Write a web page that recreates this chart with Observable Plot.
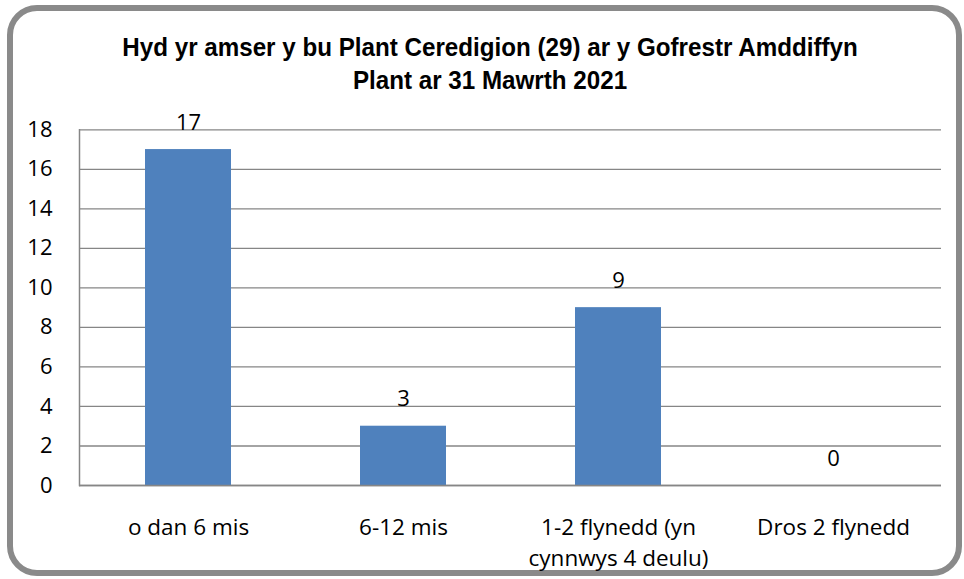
<!DOCTYPE html>
<html>
<head>
<meta charset="utf-8">
<script src="https://cdn.jsdelivr.net/npm/d3@7"></script>
<script src="https://cdn.jsdelivr.net/npm/@observablehq/plot@0.6"></script>
<style>
  html, body { margin: 0; padding: 0; background: #fff; }
  #wrap { position: relative; width: 964px; height: 579px; overflow: hidden; }
  #frame {
    position: absolute; left: 7px; top: 5px; width: 943px; height: 559px;
    border: 6px solid #8a8a8a; border-radius: 30px; box-sizing: content-box;
  }
  #title {
    position: absolute; left: 0; top: 30.5px; width: 980px; text-align: center;
    font-family: "Liberation Sans", Arial, sans-serif; font-weight: bold;
    font-size: 26px; line-height: 33px; color: #000;
    transform: scaleX(0.93); transform-origin: 490px 0;
  }
  #chart { position: absolute; left: 0; top: 0; }
</style>
</head>
<body>
<div id="wrap">
  <div id="frame"></div>
  <div id="title">Hyd yr amser y bu Plant Ceredigion (29) ar y Gofrestr Amddiffyn<br>Plant ar 31 Mawrth 2021</div>
  <div id="chart"></div>
</div>
<script>
const categories = ["o dan 6 mis", "6-12 mis", "1-2 flynedd (yn cynnwys 4 deulu)", "Dros 2 flynedd"];
const tickLabels = ["o dan 6 mis", "6-12 mis", "1-2 flynedd (yn\ncynnwys 4 deulu)", "Dros 2 flynedd"];
const values = [17, 3, 9, 0];
const yTicks = [0, 2, 4, 6, 8, 10, 12, 14, 16, 18];

const data = categories.map((c, i) => ({category: c, value: values[i]}));
const labelOf = new Map(categories.map((c, i) => [c, tickLabels[i]]));

const font = "'Open Sans', 'Noto Sans', sans-serif";

const plot = Plot.plot({
  width: 964,
  height: 579,
  marginLeft: 79,
  marginRight: 23,
  marginTop: 129.3,
  marginBottom: 94,
  style: {background: "transparent", color: "#000", fontFamily: font},
  x: {domain: categories, paddingInner: 0.6, paddingOuter: 0.3},
  y: {domain: [0, 18]},
  marks: [
    Plot.ruleY(yTicks, {stroke: "#868686", strokeWidth: 1.3, strokeOpacity: 1}),
    Plot.frame({anchor: "left", stroke: "#868686", strokeWidth: 1.5, strokeOpacity: 1}),
    Plot.barY(data, {x: "category", y: "value", fill: "#4F81BD"}),
    Plot.ruleY([0], {stroke: "#868686", strokeWidth: 1.5, strokeOpacity: 1}),
    Plot.axisY({
      ticks: yTicks, tickSize: 0, tickPadding: 27, fontSize: 22,
      fontFamily: font, label: null
    }),
    Plot.axisX({
      tickSize: 0, tickPadding: 27, fontSize: 22.5, lineHeight: 1.4,
      fontFamily: font, label: null, tickFormat: (d) => labelOf.get(d)
    }),
    Plot.text(data, {
      x: "category", y: "value", text: (d) => String(d.value),
      dy: -27, fontSize: 22, fontFamily: font, fill: "#000"
    })
  ]
});

document.getElementById("chart").appendChild(plot);
</script>
</body>
</html>
